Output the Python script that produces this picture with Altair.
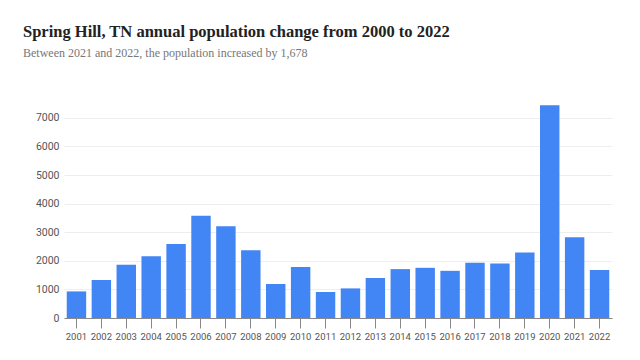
import altair as alt
import pandas as pd

years = [str(y) for y in range(2001, 2023)]
changes = [930, 1330, 1860, 2160, 2590, 3580, 3210, 2370, 1190, 1780,
           910, 1035, 1400, 1710, 1755, 1650, 1930, 1905, 2290, 7443, 2825, 1678]
y_ticks = [0, 1000, 2000, 3000, 4000, 5000, 6000, 7000]

df = pd.DataFrame({"year": years, "change": changes})

chart = alt.Chart(df).mark_bar(color="#4285F4").encode(
    x=alt.X("year:N", title=None, sort=years,
            scale=alt.Scale(paddingInner=0.22, paddingOuter=0.11),
            axis=alt.Axis(labelAngle=0, labelFont="Roboto", labelFontSize=9.5,
                          labelColor="#555", tickSize=10, tickColor="#888",
                          domainColor="#888", labelPadding=3, grid=False)),
    y=alt.Y("change:Q", title=None,
            scale=alt.Scale(domain=[0, 7450], nice=False),
            axis=alt.Axis(values=y_ticks, format="d", labelFont="Roboto",
                          labelFontSize=10.5, labelColor="#555", domain=False,
                          ticks=False, labelPadding=5, gridColor="#eeeeee")),
).properties(
    width=548, height=213,
    autosize=alt.AutoSizeParams(type="none"),
    padding={"left": 56, "top": 97, "right": 20, "bottom": 34},
    title=alt.TitleParams(
        text="Spring Hill, TN annual population change from 2000 to 2022",
        subtitle="Between 2021 and 2022, the population increased by 1,678",
        anchor="start", frame="group", dx=-41, offset=46,
        font="Liberation Serif", fontSize=16.5, fontWeight="bold", color="#222",
        subtitleFont="Liberation Serif", subtitleFontSize=12,
        subtitleColor="#777", subtitlePadding=8,
    ),
).configure_view(stroke=None)

chart.save("out.html", embed_options={"renderer": "svg", "actions": False})
